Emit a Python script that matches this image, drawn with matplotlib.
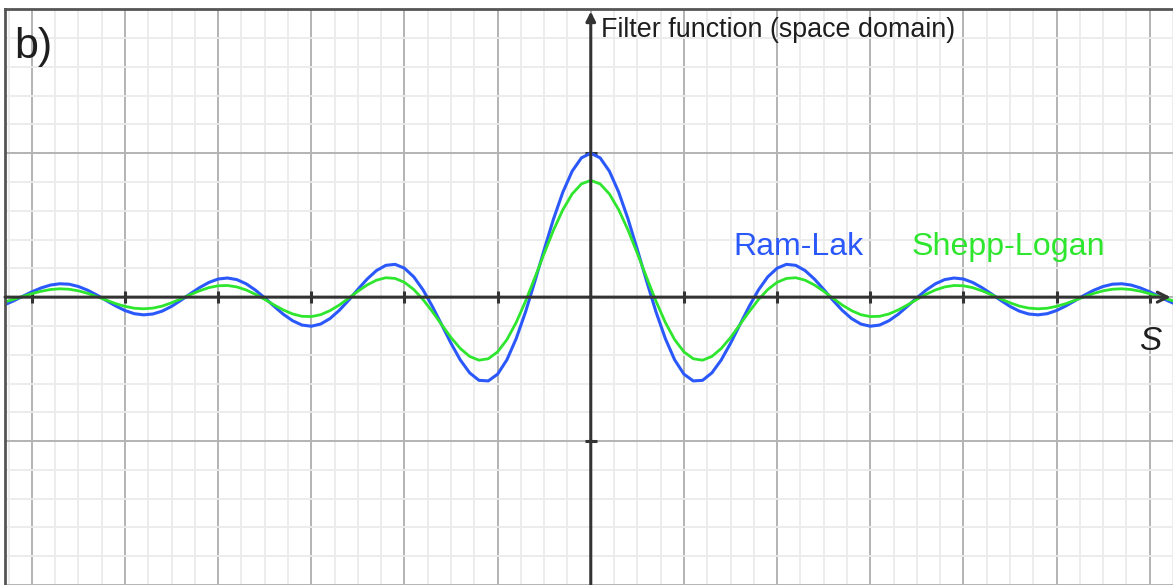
import numpy as np
import matplotlib
matplotlib.use("Agg")
import matplotlib.pyplot as plt

# values for s >= 0 (step 0.1), curves are symmetric
s_pos = np.round(np.arange(65) * 0.1, 1)
ram_lak = [1.000, 0.968, 0.875, 0.729, 0.543, 0.330, 0.110, -0.102, -0.287, -0.435, -0.535,
           -0.582, -0.578, -0.526, -0.437, -0.321, -0.192, -0.065, 0.050, 0.141, 0.201, 0.228,
           0.221, 0.185, 0.126, 0.054, -0.022, -0.092, -0.149, -0.187, -0.202, -0.194, -0.164,
           -0.119, -0.063, -0.005, 0.049, 0.093, 0.122, 0.133, 0.126, 0.102, 0.066, 0.023,
           -0.022, -0.064, -0.097, -0.117, -0.123, -0.115, -0.093, -0.061, -0.024, 0.014, 0.048,
           0.074, 0.090, 0.093, 0.084, 0.064, 0.037, 0.005, -0.027, -0.055, -0.076]
shepp_logan = [0.811, 0.787, 0.717, 0.607, 0.466, 0.304, 0.136, -0.028, -0.175, -0.295, -0.380,
               -0.428, -0.438, -0.412, -0.357, -0.281, -0.192, -0.101, -0.017, 0.053, 0.103, 0.130,
               0.135, 0.118, 0.085, 0.041, -0.008, -0.055, -0.094, -0.122, -0.135, -0.133, -0.117,
               -0.089, -0.054, -0.016, 0.020, 0.050, 0.071, 0.081, 0.079, 0.066, 0.044, 0.017,
               -0.012, -0.039, -0.062, -0.076, -0.081, -0.077, -0.064, -0.045, -0.021, 0.003, 0.026,
               0.044, 0.055, 0.058, 0.053, 0.041, 0.024, 0.004, -0.016, -0.035, -0.049]
x_ticks = [-6, -5, -4, -3, -2, -1, 1, 2, 3, 4, 5, 6]
y_ticks = [-1, 1]

def mirror(v):
    v = np.asarray(v)
    return np.concatenate([v[:0:-1], v])

s = np.concatenate([-s_pos[:0:-1], s_pos])
blue = "#2a58fa"
green = "#2ee62e"
axis_col = "#333333"
text_col = "#1e1e1e"

plt.rcParams["font.family"] = ["Liberation Sans", "DejaVu Sans"]
fig = plt.figure(figsize=(11.73, 5.85), dpi=100)
ax = fig.add_axes([5 / 1173, 0, 1 - 5 / 1173, 1 - 9.3 / 585])
xmin, xmax = -6.288, 6.23
ax.set_xlim(xmin, xmax)
ax.set_ylim(-2, 2)

ax.set_xticks(np.arange(-6, 7, 1))
ax.set_xticks(np.arange(-6.25, 6.3, 0.25), minor=True)
ax.set_yticks(np.arange(-2, 3, 1))
ax.set_yticks(np.arange(-2, 2.01, 0.2), minor=True)
ax.grid(which="minor", color="#ebebeb", lw=1.3)
ax.grid(which="major", color="#b3b3b3", lw=1.4)
ax.tick_params(which="both", length=0, labelbottom=False, labelleft=False)
ax.set_axisbelow(True)
for side in ["right", "bottom"]:
    ax.spines[side].set_visible(False)
for side in ["top", "left"]:
    ax.spines[side].set_color("#555555")
    ax.spines[side].set_linewidth(2)

# axes through origin with arrows
ax.annotate("", xy=(6.225, 0), xytext=(xmin, 0),
            arrowprops=dict(arrowstyle="->", color=axis_col, lw=2.2, mutation_scale=18,
                            shrinkA=0, shrinkB=0))
ax.annotate("", xy=(0, 1.985), xytext=(0, -2),
            arrowprops=dict(arrowstyle="-|>", color=axis_col, lw=2.2, mutation_scale=14,
                            shrinkA=0, shrinkB=0))
ax.plot(x_ticks, np.zeros(len(x_ticks)), ls="none", marker="|", ms=9, mew=2.2, color=axis_col)
ax.plot(np.zeros(len(y_ticks)), y_ticks, ls="none", marker="_", ms=9, mew=2.2, color=axis_col)

ax.plot(s, mirror(ram_lak), color=blue, lw=2.2, solid_capstyle="round", solid_joinstyle="round")
ax.plot(s, mirror(shepp_logan), color=green, lw=2.0, solid_capstyle="round", solid_joinstyle="round")

fig.text(14 / 1173, 1 - 58 / 585, "b)", fontsize=31, color=text_col)
fig.text(601 / 1173, 1 - 36.7 / 585, "Filter function (space domain)", fontsize=19.4, color=text_col)
fig.text(733 / 1173, 1 - 255 / 585, "Ram-Lak", fontsize=23, color=blue)
fig.text(912 / 1173, 1 - 255 / 585, "Shepp-Logan", fontsize=23.2, color=green)
fig.text(1139 / 1173, 1 - 350 / 585, "S", fontsize=24, style="italic", color=text_col)

fig.savefig("out.png")
